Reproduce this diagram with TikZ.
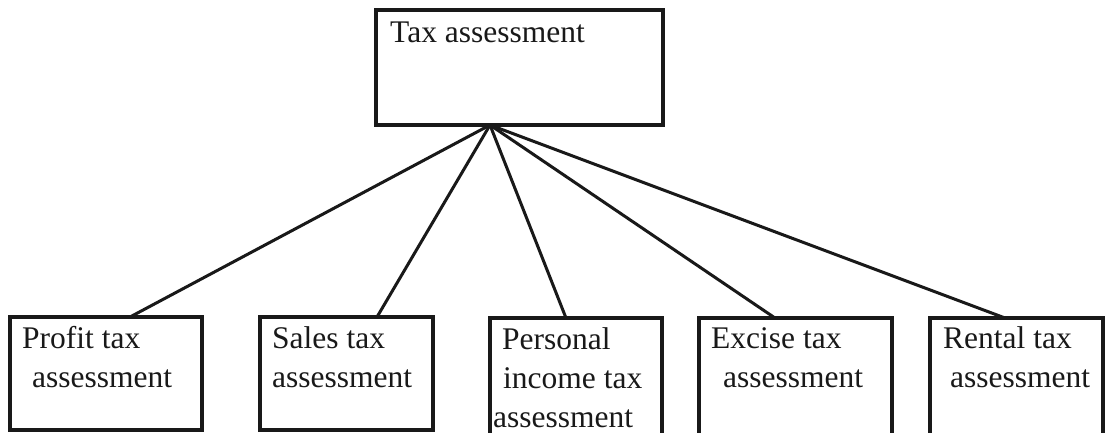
\documentclass[tikz,border=0pt]{standalone}
\usepackage{fontspec}
\setmainfont{Liberation Serif}
\begin{document}
\begin{tikzpicture}[x=1pt,y=-1pt,
  box/.style={draw=black!90,line width=3.2pt,inner sep=0pt,minimum width=#1},
  lbl/.style={anchor=base west,inner sep=0pt,font=\fontsize{31.5}{39}\selectfont,text=black!90},
  link/.style={draw=black!90,line width=3pt}]
\useasboundingbox (0,0) rectangle (1108,432);

% head box
\node[box=287pt,minimum height=115pt] (top) at (519.5,67.5) {};
\node[lbl] (ttop) at (390,42) {Tax assessment};

% lower boxes
\node[box=192pt,minimum height=113pt] (profit)   at (106,373.5) {};
\node[box=173pt,minimum height=113pt] (sales)    at (346.5,373.5) {};
\node[box=172pt,minimum height=123pt] (personal) at (576,379.5) {};
\node[box=193pt,minimum height=123pt] (excise)   at (795.5,379.5) {};
\node[box=173pt,minimum height=123pt] (rental)   at (1016.5,379.5) {};

% labels
\node[lbl] (t1a) at (22,348) {Profit tax};
\node[lbl] (t1b) at (32,387) {assessment};
\node[lbl] (t2a) at (272,348) {Sales tax};
\node[lbl] (t2b) at (272,387) {assessment};
\node[lbl] (t3a) at (502,349) {Personal};
\node[lbl] (t3b) at (503,388) {income tax};
\node[lbl] (t3c) at (493,427) {assessment};
\node[lbl] (t4a) at (711,348) {Excise tax};
\node[lbl] (t4b) at (723,387) {assessment};
\node[lbl] (t5a) at (943,348) {Rental tax};
\node[lbl] (t5b) at (950,387) {assessment};

% attachment points
\coordinate (apex) at (490,125);
\coordinate (p1) at (130,317);
\coordinate (p2) at (377,317);
\coordinate (p3) at (566,318);
\coordinate (p4) at (775,318);
\coordinate (p5) at (1005,318);

\draw[link] (apex) -- (p1);
\draw[link] (apex) -- (p2);
\draw[link] (apex) -- (p3);
\draw[link] (apex) -- (p4);
\draw[link] (apex) -- (p5);
\end{tikzpicture}
\end{document}
